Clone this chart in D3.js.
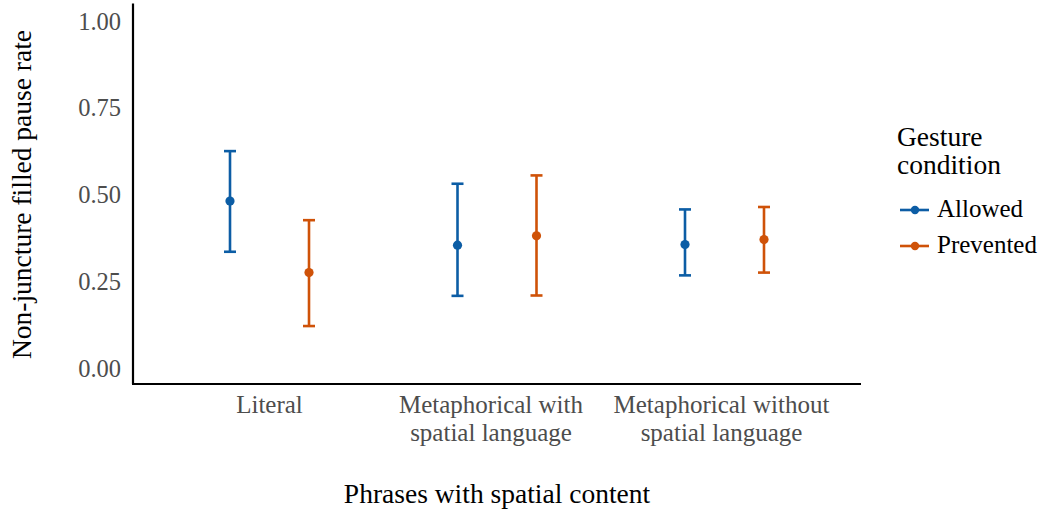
<!DOCTYPE html>
<html><head><meta charset="utf-8">
<script src="https://d3js.org/d3.v7.min.js"></script>
<style>body{margin:0;background:#fff}svg{display:block}text{font-family:"Liberation Serif","Times New Roman",serif}</style>
</head><body><svg id="c" width="1040" height="512"></svg>
<script>
const categories = ["Literal", "Metaphorical with\nspatial language", "Metaphorical without\nspatial language"];
const conditions = ["Allowed", "Prevented"];
const colors = ["#0C5DA5", "#CF5208"];
const allowedMean = [0.481, 0.354, 0.356];
const allowedLow  = [0.335, 0.208, 0.267];
const allowedHigh = [0.625, 0.531, 0.457];
const preventedMean = [0.275, 0.381, 0.370];
const preventedLow  = [0.121, 0.209, 0.275];
const preventedHigh = [0.426, 0.555, 0.464];
const yTicks = [0, 0.25, 0.5, 0.75, 1.0];

const series = [
  {name: "Allowed", mean: allowedMean, low: allowedLow, high: allowedHigh},
  {name: "Prevented", mean: preventedMean, low: preventedLow, high: preventedHigh}
];

const svg = d3.select("#c");
const L = 133, R = 861, T = 3.6, B = 385.4;
const y = d3.scaleLinear().domain([-0.05, 1.05]).range([B, T]);
const x = d3.scalePoint().domain(categories).range([L, R]).padding(0.6);
const dodge = d3.scaleBand().domain(conditions).range([-79, 79]).paddingInner(0).paddingOuter(0);
const color = d3.scaleOrdinal().domain(conditions).range(colors);
const labelShift = [0, -6, -3];

// axes lines
svg.append("line").attr("x1", L).attr("x2", L).attr("y1", T).attr("y2", B - 1.5).attr("stroke", "#000").attr("stroke-width", 2.2);
svg.append("line").attr("x1", L - 1).attr("x2", R).attr("y1", 384).attr("y2", 384).attr("stroke", "#000").attr("stroke-width", 2.2);

// y tick labels
svg.append("g").selectAll("text").data(yTicks).join("text")
  .attr("x", 121).attr("y", d => y(d)).attr("dy", "0.35em")
  .attr("text-anchor", "end").attr("font-size", 24.5).attr("fill", "#4d4d4d")
  .text(d => d3.format(".2f")(d));

// x tick labels
const xl = svg.append("g").selectAll("text").data(categories).join("text")
  .attr("y", 413).attr("text-anchor", "middle")
  .attr("font-size", 25).attr("fill", "#4d4d4d");
xl.each(function(d, k) {
  const lines = d.split("\n");
  d3.select(this).selectAll("tspan").data(lines).join("tspan")
    .attr("x", x(d) + labelShift[k]).attr("dy", (l, i) => i === 0 ? 0 : 28).text(l => l);
});

// axis titles
svg.append("text").attr("x", (L + R) / 2).attr("y", 503).attr("text-anchor", "middle")
  .attr("font-size", 27.5).attr("fill", "#000").text("Phrases with spatial content");
svg.append("text").attr("transform", `translate(31,${(T + B) / 2}) rotate(-90)`)
  .attr("text-anchor", "middle").attr("font-size", 27.5).attr("fill", "#000").text("Non-juncture filled pause rate");

// error bars
const capW = 6;
series.forEach(s => {
  const g = svg.append("g").attr("stroke", color(s.name)).attr("fill", color(s.name));
  categories.forEach((c, i) => {
    const cx = x(c) + dodge(s.name) + dodge.bandwidth() / 2;
    g.append("line").attr("x1", cx).attr("x2", cx).attr("y1", y(s.low[i])).attr("y2", y(s.high[i])).attr("stroke-width", 2.6);
    g.append("line").attr("x1", cx - capW).attr("x2", cx + capW).attr("y1", y(s.low[i])).attr("y2", y(s.low[i])).attr("stroke-width", 2.6);
    g.append("line").attr("x1", cx - capW).attr("x2", cx + capW).attr("y1", y(s.high[i])).attr("y2", y(s.high[i])).attr("stroke-width", 2.6);
    g.append("circle").attr("cx", cx).attr("cy", y(s.mean[i])).attr("r", 4.6).attr("stroke", "none");
  });
});

// legend
const lg = svg.append("g");
lg.append("text").attr("x", 897).attr("y", 146).attr("font-size", 27.5).attr("fill", "#000").text("Gesture");
lg.append("text").attr("x", 897).attr("y", 174).attr("font-size", 27.5).attr("fill", "#000").text("condition");
conditions.forEach((c, i) => {
  const yy = 210 + i * 36;
  lg.append("line").attr("x1", 900).attr("x2", 929).attr("y1", yy).attr("y2", yy).attr("stroke", color(c)).attr("stroke-width", 2.6);
  lg.append("circle").attr("cx", 915).attr("cy", yy).attr("r", 4.2).attr("fill", color(c));
  lg.append("text").attr("x", 937).attr("y", yy + 7).attr("font-size", 25).attr("fill", "#000").text(c);
});
</script></body></html>
